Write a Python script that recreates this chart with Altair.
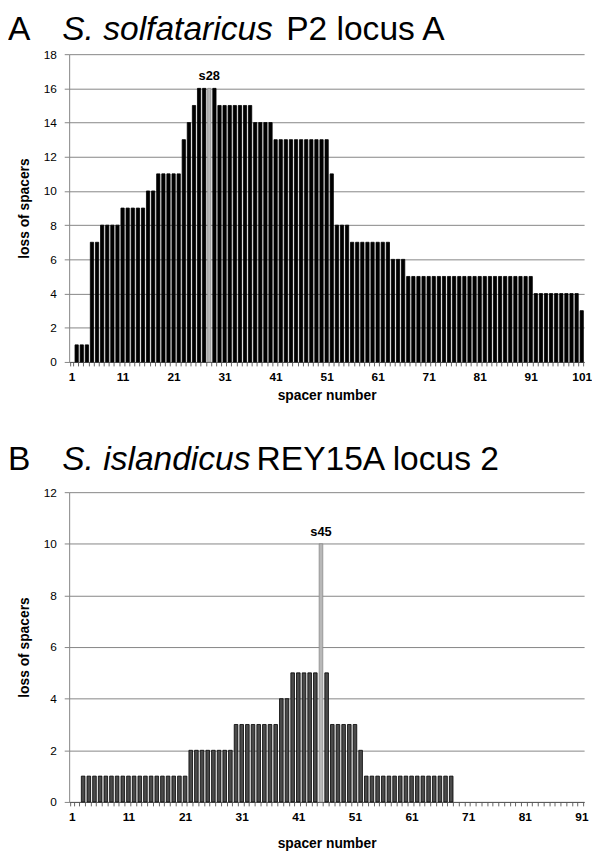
import altair as alt
import pandas as pd

FONT = "Liberation Sans"

# ---------------- data ----------------
spacers_a = list(range(1, 102))
loss_a = [0, 1, 1, 1, 7, 7, 8, 8, 8, 8,
          9, 9, 9, 9, 9, 10, 10, 11, 11, 11,
          11, 11, 13, 14, 15, 16, 16, 16, 16, 15,
          15, 15, 15, 15, 15, 15, 14, 14, 14, 14,
          13, 13, 13, 13, 13, 13, 13, 13, 13, 13,
          13, 11, 8, 8, 8, 7, 7, 7, 7, 7,
          7, 7, 7, 6, 6, 6, 5, 5, 5, 5,
          5, 5, 5, 5, 5, 5, 5, 5, 5, 5,
          5, 5, 5, 5, 5, 5, 5, 5, 5, 5,
          5, 4, 4, 4, 4, 4, 4, 4, 4, 4,
          3]
highlight_a = 28
label_a = "s28"
title_a = ["A", "S. solfataricus", "P2 locus A"]

spacers_b = list(range(1, 92))
loss_b = [0, 0, 1, 1, 1, 1, 1, 1, 1, 1,
          1, 1, 1, 1, 1, 1, 1, 1, 1, 1,
          1, 2, 2, 2, 2, 2, 2, 2, 2, 3,
          3, 3, 3, 3, 3, 3, 3, 4, 4, 5,
          5, 5, 5, 5, 10, 5, 3, 3, 3, 3,
          3, 2, 1, 1, 1, 1, 1, 1, 1, 1,
          1, 1, 1, 1, 1, 1, 1, 1, 0, 0,
          0, 0, 0, 0, 0, 0, 0, 0, 0, 0,
          0, 0, 0, 0, 0, 0, 0, 0, 0, 0,
          0]
highlight_b = 45
label_b = "s45"
title_b = ["B", "S. islandicus", "REY15A locus 2"]

y_title_a = "loss of  spacers"
y_title_b = "loss of spacers"
x_title = "spacer number"


def panel(spacers, loss, hl, hl_label, ymax, title, y_title, bar_fill, bar_stroke,
          width, height, title_y, title_x2, x_label_pad, x_title_pad, tsize):
    df = pd.DataFrame({"spacer": spacers, "loss": loss})
    df["hl"] = df["spacer"] == hl
    df["lab"] = [hl_label if s == hl else "" for s in spacers]

    x = alt.X("spacer:O",
              scale=alt.Scale(paddingInner=0.36, paddingOuter=0.15),
              axis=alt.Axis(title=x_title, labelAngle=0,
                            labelExpr="datum.value % 10 == 1 ? datum.label : ''",
                            tickBand="extent", tickSize=4, tickColor="#666666",
                            domainColor="#555555", labelFont=FONT, labelFontSize=12,
                            labelFontWeight="bold", labelColor="#000000",
                            labelPadding=x_label_pad,
                            titleFont=FONT, titleFontSize=14, titleFontWeight="bold",
                            titleColor="#000000", titlePadding=x_title_pad, grid=False))
    y = alt.Y("loss:Q",
              scale=alt.Scale(domain=[0, ymax], nice=False),
              axis=alt.Axis(title=y_title, values=list(range(0, ymax + 1, 2)),
                            tickSize=5, tickColor="#858585", domainColor="#858585",
                            grid=True, gridColor="#858585", gridWidth=1,
                            labelFont=FONT, labelFontSize=12, labelColor="#000000",
                            labelPadding=8, titleFont=FONT, titleFontSize=14,
                            titleFontWeight="bold", titleColor="#000000", titlePadding=12))

    base = alt.Chart(df).encode(x=x, y=y)
    bars = base.mark_bar(strokeWidth=0.8).encode(
        color=alt.condition("datum.hl", alt.value("#b8b8b8"), alt.value(bar_fill)),
        stroke=alt.condition("datum.hl", alt.value("#8a8a8a"), alt.value(bar_stroke)),
        strokeOpacity=alt.condition("datum.loss == 0", alt.value(0), alt.value(1)),
    )
    lab = base.mark_text(font=FONT, fontSize=13, fontWeight="bold", baseline="bottom",
                         dy=-5, color="#000000").encode(text="lab:N").transform_filter("datum.hl")

    common = dict(font=FONT, fontSize=tsize, align="left", baseline="alphabetic", color="#000000")
    t1 = alt.Chart(pd.DataFrame({"t": [title[0]]})).mark_text(**common).encode(
        text="t:N", x=alt.value(-62), y=alt.value(title_y))
    t2 = alt.Chart(pd.DataFrame({"t": [title[1]]})).mark_text(fontStyle="italic", **common).encode(
        text="t:N", x=alt.value(-7), y=alt.value(title_y))
    t3 = alt.Chart(pd.DataFrame({"t": [title[2]]})).mark_text(**common).encode(
        text="t:N", x=alt.value(title_x2), y=alt.value(title_y))

    return alt.layer(bars, lab, t1, t2, t3).properties(width=width, height=height)


pa = panel(spacers_a, loss_a, highlight_a, label_a, 18, title_a, y_title_a,
           "#000000", "#000000", 522, 312, -14, 220, 6, 6, 34)
pb = panel(spacers_b, loss_b, highlight_b, label_b, 12, title_b, y_title_b,
           "#4a4a4a", "#000000", 522, 314, -22, 190, 6, 14, 34)

chart = alt.vconcat(pa, pb, spacing=42).properties(padding=0).configure_view(stroke=None)

chart.save("out.html", embed_options={"renderer": "svg", "actions": False})
